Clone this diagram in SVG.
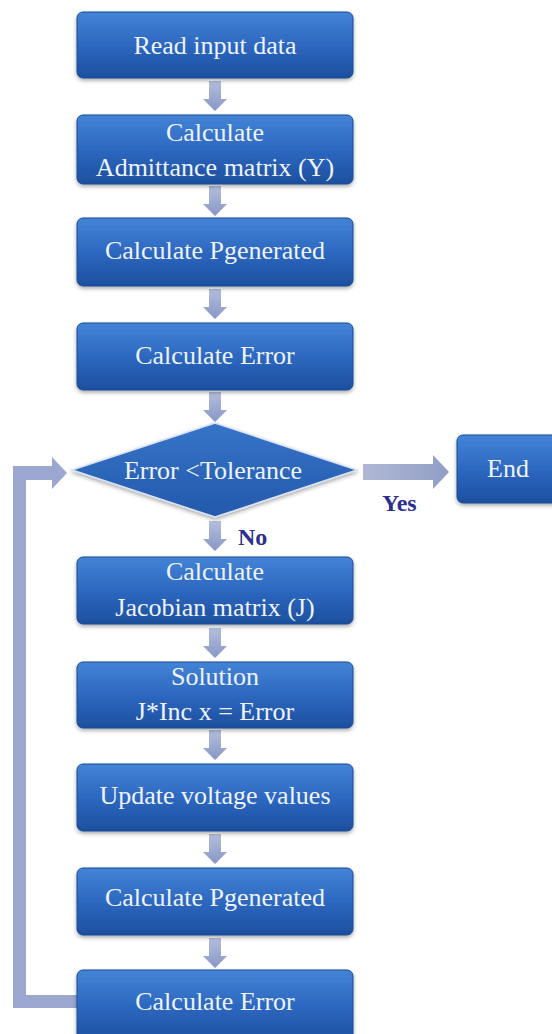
<svg xmlns="http://www.w3.org/2000/svg" width="552" height="1034" viewBox="0 0 552 1034">
<defs>
<linearGradient id="bg" x1="0" y1="0" x2="0" y2="1">
<stop offset="0" stop-color="#4384d6"/>
<stop offset="0.5" stop-color="#2d68c0"/>
<stop offset="1" stop-color="#1d4f9e"/>
</linearGradient>
<linearGradient id="dg" x1="0" y1="0" x2="0" y2="1">
<stop offset="0" stop-color="#3674c8"/>
<stop offset="1" stop-color="#2459ab"/>
</linearGradient>
<linearGradient id="ag" x1="0" y1="0" x2="0" y2="1">
<stop offset="0" stop-color="#b4bedc"/>
<stop offset="1" stop-color="#8797c6"/>
</linearGradient>
<linearGradient id="hg" x1="0" y1="0" x2="1" y2="0">
<stop offset="0" stop-color="#b0b8d4"/>
<stop offset="1" stop-color="#909ec6"/>
</linearGradient>
<filter id="sh" x="-10%" y="-10%" width="120%" height="130%">
<feGaussianBlur in="SourceAlpha" stdDeviation="2"/>
<feOffset dx="0" dy="2"/>
<feComponentTransfer><feFuncA type="linear" slope="0.35"/></feComponentTransfer>
<feMerge><feMergeNode/><feMergeNode in="SourceGraphic"/></feMerge>
</filter>
<path id="da" d="M-6,0 H6 V18 H12 L0,30 L-12,18 H-6 Z"/>
</defs>
<style>
.box{fill:url(#bg);stroke:#1c4a94;stroke-width:1;filter:url(#sh)}
.t{font-family:"Liberation Serif","Times New Roman",serif;font-size:26px;fill:#eef3ff;text-anchor:middle}
.lab{font-family:"Liberation Serif","Times New Roman",serif;font-size:24px;font-weight:bold;fill:#2b2f8f}
.arr{fill:url(#ag)}
</style>
<rect width="552" height="1034" fill="#ffffff"/>
<g id="connectors">
<use href="#da" class="arr" x="215" y="81"/>
<use href="#da" class="arr" x="215" y="186"/>
<use href="#da" class="arr" x="215" y="289"/>
<use href="#da" class="arr" x="215" y="392"/>
<use href="#da" class="arr" x="215" y="521"/>
<use href="#da" class="arr" x="215" y="628"/>
<use href="#da" class="arr" x="215" y="730"/>
<use href="#da" class="arr" x="215" y="834"/>
<use href="#da" class="arr" x="215" y="938"/>
<path d="M363,464 H433 V455 L449,472 L433,489 V480 H363 Z" fill="url(#hg)"/>
<path d="M78,995 H26 V480 H52 V489 L67,473 L52,457 V466 H13 V1008 H78 Z" fill="#9ba7cf"/>
<text class="lab" x="382" y="511">Yes</text>
<text class="lab" x="238" y="545">No</text>
</g>
<g id="n1"><rect class="box" x="77" y="12" width="276" height="66" rx="6"/><text class="t" x="215" y="54">Read input data</text></g>
<g id="n2"><rect class="box" x="77" y="115" width="276" height="69" rx="6"/><text class="t" x="215" y="141">Calculate</text><text class="t" x="215" y="176">Admittance matrix (Y)</text></g>
<g id="n3"><rect class="box" x="77" y="218" width="276" height="68" rx="6"/><text class="t" x="215" y="259">Calculate Pgenerated</text></g>
<g id="n4"><rect class="box" x="77" y="323" width="276" height="67" rx="6"/><text class="t" x="215" y="364">Calculate Error</text></g>
<g id="n5"><path d="M215,423 L357,470 L215,517 L72,470 Z" fill="url(#dg)" stroke="#d8e2f2" stroke-width="1.5" filter="url(#sh)"/><text class="t" x="213" y="479">Error &lt;Tolerance</text></g>
<g id="n6"><rect class="box" x="457" y="435" width="104" height="68" rx="6"/><text class="t" x="508" y="477">End</text></g>
<g id="n7"><rect class="box" x="77" y="557" width="276" height="67" rx="6"/><text class="t" x="215" y="580">Calculate</text><text class="t" x="215" y="616">Jacobian matrix (J)</text></g>
<g id="n8"><rect class="box" x="77" y="662" width="276" height="66" rx="6"/><text class="t" x="215" y="685">Solution</text><text class="t" x="215" y="720">J*Inc x = Error</text></g>
<g id="n9"><rect class="box" x="77" y="764" width="276" height="67" rx="6"/><text class="t" x="215" y="804">Update voltage values</text></g>
<g id="n10"><rect class="box" x="77" y="868" width="276" height="67" rx="6"/><text class="t" x="215" y="906">Calculate Pgenerated</text></g>
<g id="n11"><rect class="box" x="77" y="970" width="276" height="72" rx="6"/><text class="t" x="215" y="1010">Calculate Error</text></g>
</svg>
